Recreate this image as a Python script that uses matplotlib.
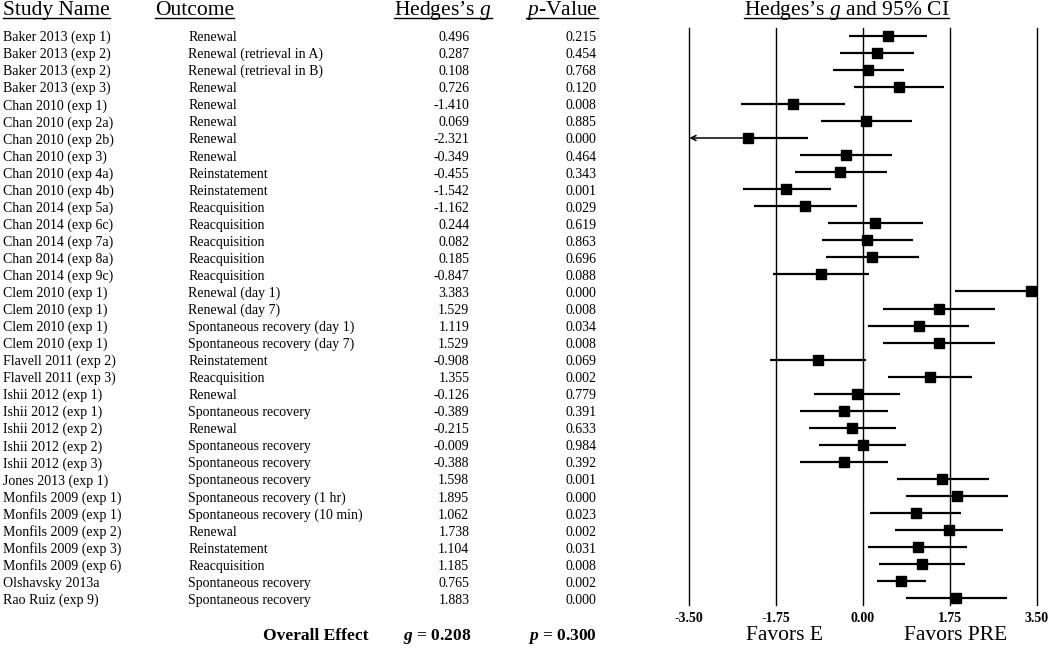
import matplotlib
matplotlib.use("Agg")
import matplotlib.pyplot as plt
import matplotlib.transforms as mtransforms

plt.rcParams['font.family'] = ['Liberation Serif', 'DejaVu Serif']
plt.rcParams['mathtext.fontset'] = 'custom'
plt.rcParams['mathtext.rm'] = 'Liberation Serif'
plt.rcParams['mathtext.it'] = 'Liberation Serif:italic'
plt.rcParams['mathtext.bf'] = 'Liberation Serif:bold'
plt.rcParams['mathtext.bfit'] = 'Liberation Serif:italic:bold'

studies = [
    "Baker 2013 (exp 1)", "Baker 2013 (exp 2)", "Baker 2013 (exp 2)", "Baker 2013 (exp 3)",
    "Chan 2010 (exp 1)", "Chan 2010 (exp 2a)", "Chan 2010 (exp 2b)", "Chan 2010 (exp 3)",
    "Chan 2010 (exp 4a)", "Chan 2010 (exp 4b)", "Chan 2014 (exp 5a)", "Chan 2014 (exp 6c)",
    "Chan 2014 (exp 7a)", "Chan 2014 (exp 8a)", "Chan 2014 (exp 9c)", "Clem 2010 (exp 1)",
    "Clem 2010 (exp 1)", "Clem 2010 (exp 1)", "Clem 2010 (exp 1)", "Flavell 2011 (exp 2)",
    "Flavell 2011 (exp 3)", "Ishii 2012 (exp 1)", "Ishii 2012 (exp 1)", "Ishii 2012 (exp 2)",
    "Ishii 2012 (exp 2)", "Ishii 2012 (exp 3)", "Jones 2013 (exp 1)", "Monfils 2009 (exp 1)",
    "Monfils 2009 (exp 1)", "Monfils 2009 (exp 2)", "Monfils 2009 (exp 3)", "Monfils 2009 (exp 6)",
    "Olshavsky 2013a", "Rao Ruiz (exp 9)",
]
outcomes = [
    "Renewal", "Renewal (retrieval in A)", "Renewal (retrieval in B)", "Renewal",
    "Renewal", "Renewal", "Renewal", "Renewal",
    "Reinstatement", "Reinstatement", "Reacquisition", "Reacquisition",
    "Reacquisition", "Reacquisition", "Reacquisition", "Renewal (day 1)",
    "Renewal (day 7)", "Spontaneous recovery (day 1)", "Spontaneous recovery (day 7)", "Reinstatement",
    "Reacquisition", "Renewal", "Spontaneous recovery", "Renewal",
    "Spontaneous recovery", "Spontaneous recovery", "Spontaneous recovery", "Spontaneous recovery (1 hr)",
    "Spontaneous recovery (10 min)", "Renewal", "Reinstatement", "Reacquisition",
    "Spontaneous recovery", "Spontaneous recovery",
]
hedges_g = [
    0.496, 0.287, 0.108, 0.726, -1.410, 0.069, -2.321, -0.349,
    -0.455, -1.542, -1.162, 0.244, 0.082, 0.185, -0.847, 3.383,
    1.529, 1.119, 1.529, -0.908, 1.355, -0.126, -0.389, -0.215,
    -0.009, -0.388, 1.598, 1.895, 1.062, 1.738, 1.104, 1.185,
    0.765, 1.883,
]
p_values = [
    0.215, 0.454, 0.768, 0.120, 0.008, 0.885, 0.000, 0.464,
    0.343, 0.001, 0.029, 0.619, 0.863, 0.696, 0.088, 0.000,
    0.008, 0.034, 0.008, 0.069, 0.002, 0.779, 0.391, 0.633,
    0.984, 0.392, 0.001, 0.000, 0.023, 0.002, 0.031, 0.008,
    0.002, 0.000,
]
ci_lower = [
    -0.28, -0.46, -0.60, -0.18, -2.45, -0.85, -3.54, -1.27,
    -1.38, -2.41, -2.20, -0.70, -0.83, -0.74, -1.81, 1.85,
    0.41, 0.10, 0.41, -1.87, 0.50, -0.99, -1.26, -1.09,
    -0.88, -1.26, 0.68, 0.87, 0.15, 0.65, 0.11, 0.32,
    0.28, 0.87,
]
ci_upper = [
    1.28, 1.03, 0.82, 1.64, -0.37, 0.99, -1.10, 0.58,
    0.48, -0.65, -0.13, 1.20, 1.01, 1.12, 0.13, 4.91,
    2.65, 2.14, 2.65, 0.06, 2.20, 0.75, 0.50, 0.66,
    0.87, 0.50, 2.53, 2.93, 1.97, 2.83, 2.10, 2.06,
    1.26, 2.90,
]
x_ticks = [-3.50, -1.75, 0.00, 1.75, 3.50]
overall_g = 0.208
overall_p = 0.300

W, H = 1050, 652
fig = plt.figure(figsize=(W / 100, H / 100), dpi=100)
fig.patch.set_facecolor('white')

ax = fig.add_axes([689.3 / W, 47 / H, 347.4 / W, (605 - 28.3) / H])
xmin, xmax = x_ticks[0], x_ticks[-1]
n = len(studies)
rows = list(range(1, n + 1))
ax.set_xlim(xmin, xmax)
ax.set_ylim(n + 0.39, 0.566)

for xv in x_ticks:
    ax.axvline(xv, color='black', lw=1.0, clip_on=False, zorder=1)

for r, gv, lo, hi in zip(rows, hedges_g, ci_lower, ci_upper):
    lo_c = max(lo, xmin)
    hi_c = min(hi, xmax)
    if lo < xmin:
        ax.hlines(r, gv, hi_c, color='black', lw=1.6, zorder=2)
        ax.annotate('', xy=(xmin, r), xytext=(gv, r),
                    arrowprops=dict(arrowstyle='->', lw=1.1, color='black',
                                    shrinkA=0, shrinkB=0, mutation_scale=9),
                    zorder=2)
    else:
        ax.hlines(r, lo_c, hi_c, color='black', lw=1.6, zorder=2)
ax.plot(hedges_g, rows, 's', color='black', markersize=7, zorder=3, clip_on=False)

ax.set_xticks(x_ticks)
ax.set_xticklabels([f"{v:.2f}" for v in x_ticks], fontsize=10, fontweight='bold')
ax.tick_params(axis='x', length=0, pad=5)
ax.set_yticks([])
for s in ax.spines.values():
    s.set_visible(False)

# table
tr = mtransforms.blended_transform_factory(fig.transFigure, ax.transData)
off = 0.32
fs = 10
for r, st, oc, gv, pv in zip(rows, studies, outcomes, hedges_g, p_values):
    fig.text(0.0029, r + off, st, transform=tr, fontsize=fs, va='baseline', ha='left')
    fig.text(0.1793, r + off, oc, transform=tr, fontsize=fs, va='baseline', ha='left')
    fig.text(0.4470, r + off, f"{gv:.3f}", transform=tr, fontsize=fs, va='baseline', ha='right')
    fig.text(0.5683, r + off, f"{pv:.3f}", transform=tr, fontsize=fs, va='baseline', ha='right')

# headers
hy = 1 - 15 / H
hfs = 15.5
headers = [
    fig.text(0.0029, hy, "Study Name", fontsize=hfs, ha='left', va='baseline'),
    fig.text(0.1476, hy, "Outcome", fontsize=hfs, ha='left', va='baseline'),
    fig.text(0.4219, hy, "Hedges\u2019s $g$", fontsize=hfs, ha='center', va='baseline'),
    fig.text(0.5352, hy, "$p$-Value", fontsize=hfs, ha='center', va='baseline'),
    fig.text(0.8062, hy, "Hedges\u2019s $g$ and 95% CI", fontsize=hfs, ha='center', va='baseline'),
]
fig.canvas.draw()
renderer = fig.canvas.get_renderer()
uy = 1 - 18 / H
for t in headers:
    bb = t.get_window_extent(renderer)
    fig.add_artist(plt.Line2D([bb.x0 / W, bb.x1 / W], [uy, uy], color='black', lw=1.0,
                              transform=fig.transFigure))

# bottom row
by = 12 / H
fig.text(0.3505, by, "Overall Effect", fontsize=12.5, fontweight='bold', ha='right', va='baseline')
fig.text(0.4492, by, f"$\\mathbfit{{g}}$ = {overall_g:.3f}", fontsize=12.5, fontweight='bold',
         ha='right', va='baseline')
fig.text(0.5683, by, f"$\\mathbfit{{p}}$ = {overall_p:.3f}", fontsize=12.5, fontweight='bold',
         ha='right', va='baseline')
fig.text(0.7473, by, "Favors E", fontsize=15.5, ha='center', va='baseline')
fig.text(0.9105, by, "Favors PRE", fontsize=15.5, ha='center', va='baseline')

fig.savefig("out.png", dpi=100, facecolor='white')
